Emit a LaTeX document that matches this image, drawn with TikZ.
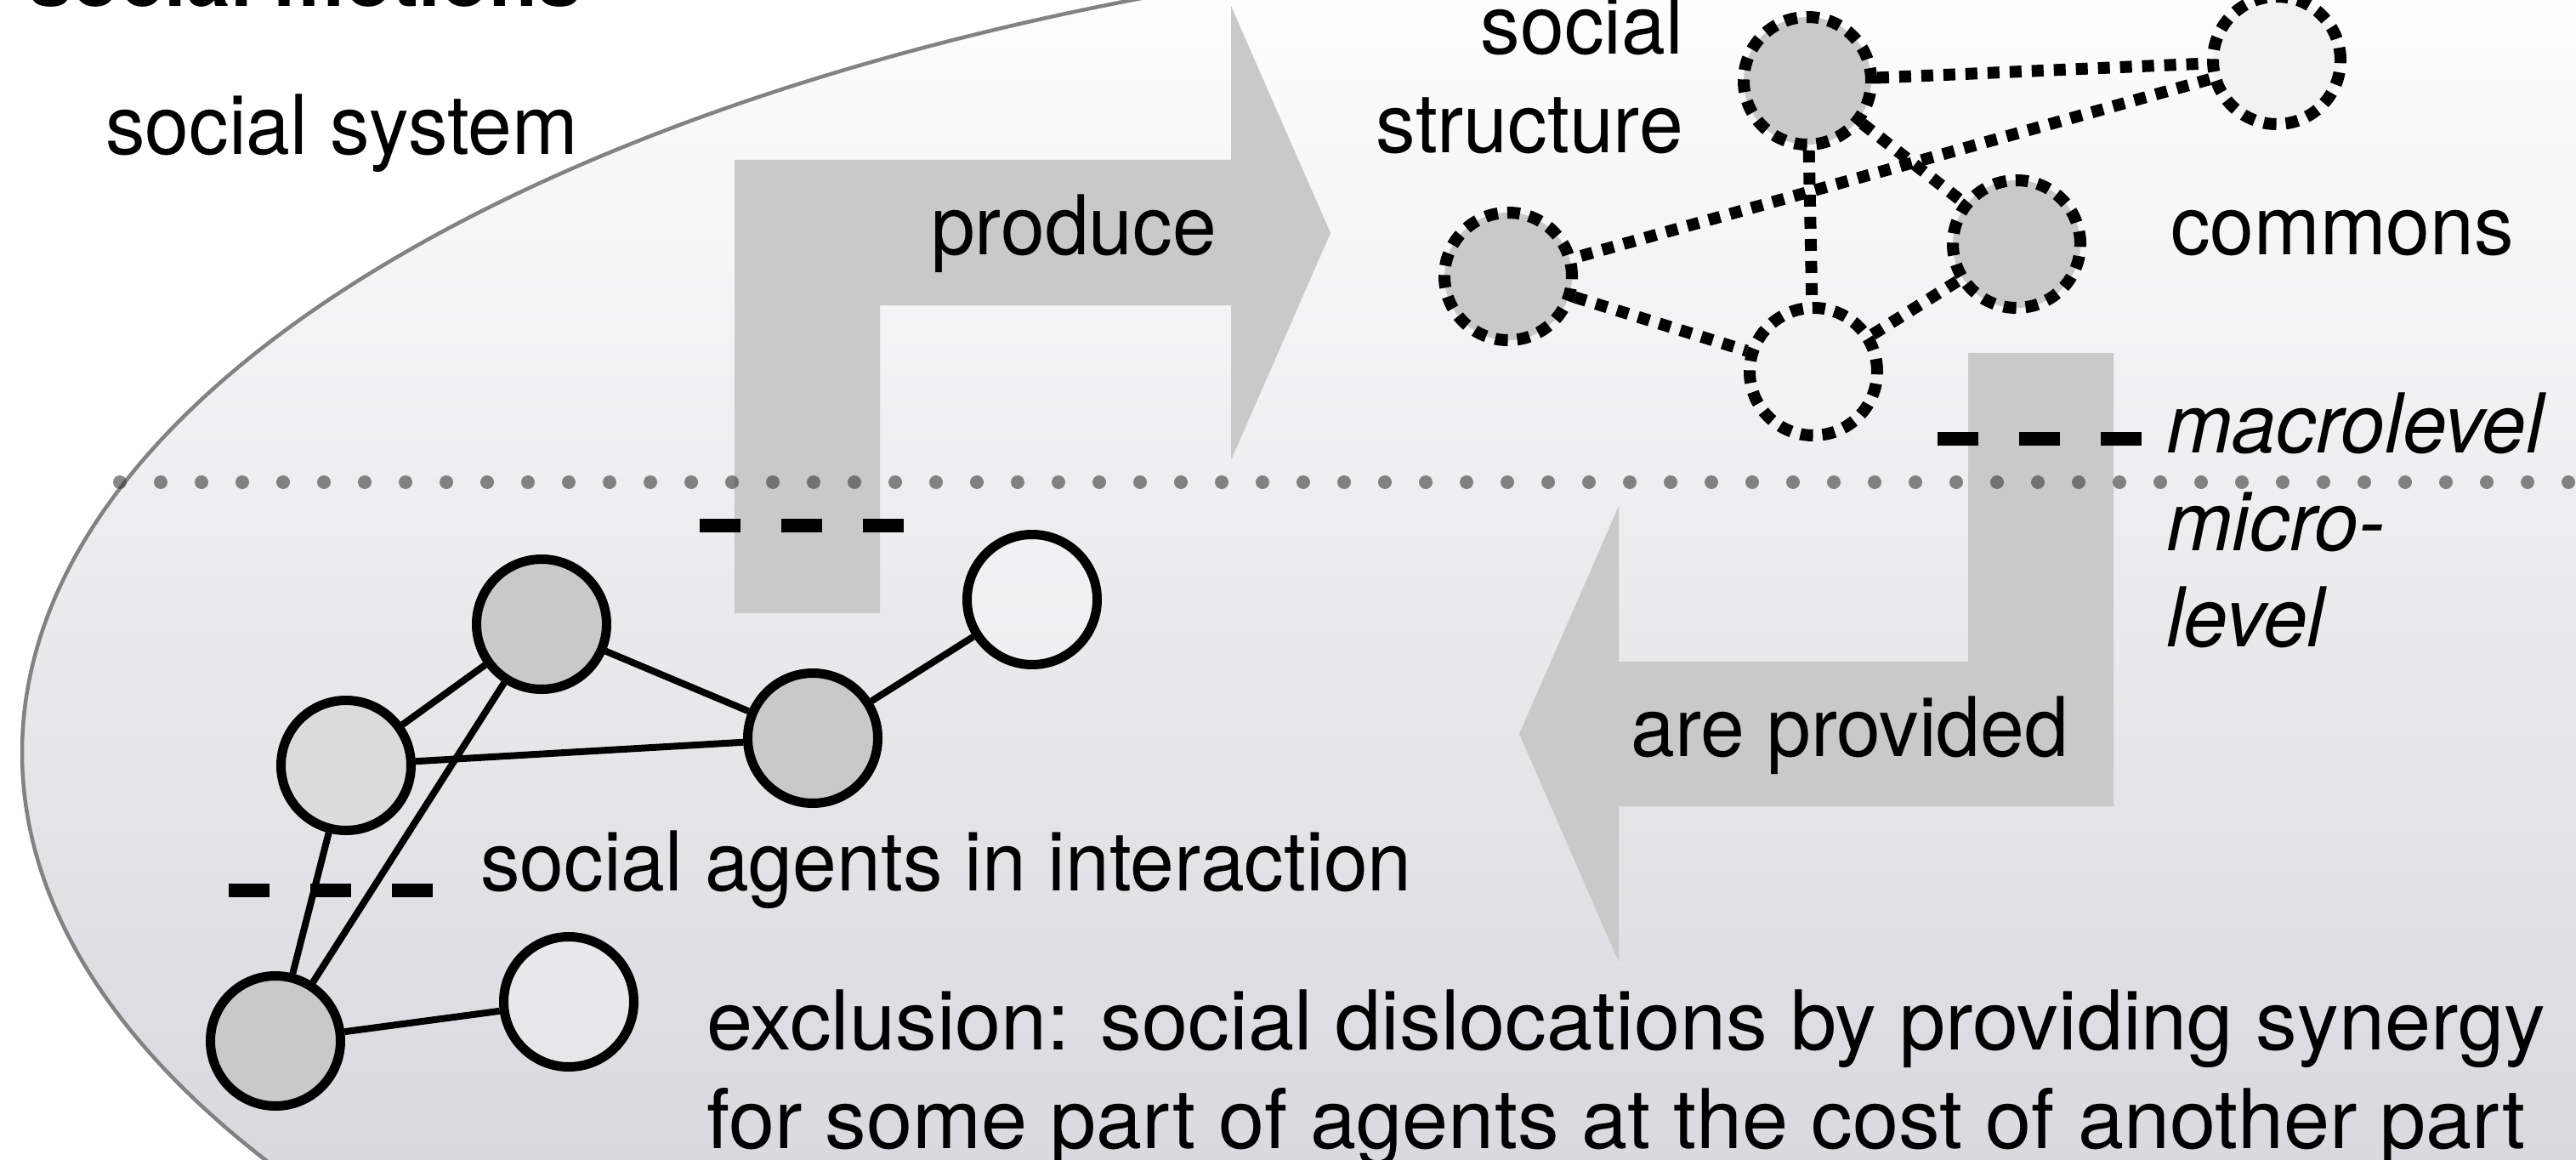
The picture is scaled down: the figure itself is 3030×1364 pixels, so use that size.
\documentclass[tikz,border=0pt]{standalone}
\usepackage{fontspec}
\setmainfont{TeX Gyre Heros}[FakeStretch=0.96]
\definecolor{arrowgray}{RGB}{201,201,201}
\definecolor{nodegray}{RGB}{201,201,201}
\definecolor{nodelight}{RGB}{219,219,219}
\definecolor{paleunit}{RGB}{242,242,242}
\definecolor{rimgray}{RGB}{130,130,130}
\definecolor{shadeend}{RGB}{205,205,211}
\definecolor{dotgray}{RGB}{57,57,57}
\begin{document}
\begin{tikzpicture}[x=1pt,y=-1pt,
  txt/.style={inner sep=0pt, font=\fontsize{97}{116}\selectfont},
  agent/.style={circle, draw=black, line width=11pt, minimum size=153pt, inner sep=0pt},
  unit/.style={circle, draw=black, line width=14pt, dash pattern=on 15pt off 11pt, minimum size=150pt, inner sep=0pt},
  tie/.style={draw=black, line width=8pt},
  weaktie/.style={draw=black, line width=14pt, dash pattern=on 14pt off 12pt},
  flow/.style={fill=arrowgray},
  levelmark/.style={draw=black, line width=16pt, dash pattern=on 48pt off 48pt},
]
\path[use as bounding box] (0,0) rectangle (3030,1364);
\clip (0,0) rectangle (3030,1364);

% the social system
\shadedraw[draw=rimgray, line width=4.5pt, top color=white, bottom color=shadeend]
  (2200,885) ellipse [x radius=2174pt, y radius=965pt];

% produce / are provided
\path[flow] (864,721) -- (864,188) -- (1448,188) -- (1448,7) -- (1565,274)
  -- (1448,541) -- (1448,359) -- (1035,359) -- (1035,721) -- cycle;
\path[flow] (2315,415) -- (2486,415) -- (2486,948) -- (1904,948) -- (1904,1131)
  -- (1787,863) -- (1904,595) -- (1904,778) -- (2315,778) -- cycle;

% border between macro- and microlevel
\draw[dotgray, opacity=0.6, line width=16pt, line cap=round, dash pattern=on 0pt off 48pt]
  (141,567) -- (3060,567);

% level marks
\draw[levelmark] (823,618) -- (1063,618);
\draw[levelmark] (2279,516) -- (2520,516);
\draw[levelmark] (269,1047) -- (509,1047);

% social agents in interaction
\node[agent, fill=nodegray] (a1) at (637,734) {};
\node[agent, fill=nodelight] (a2) at (407,900) {};
\node[agent, fill=nodegray] (a3) at (956,868) {};
\node[agent, fill=white, fill opacity=0.3] (a4) at (1214,705) {};
\node[agent, fill=nodegray] (a5) at (324,1224) {};
\node[agent, fill=white, fill opacity=0.3] (a6) at (669,1178) {};
\draw[tie] (a1) -- (a2);
\draw[tie] (a1) -- (a3);
\draw[tie] (a2) -- (a3);
\draw[tie] (a3) -- (a4);
\draw[tie] (a1) -- (a5);
\draw[tie] (a2) -- (a5);
\draw[tie] (a5) -- (a6);

% social structure
\node[unit, fill=nodegray] (u1) at (2126,95) {};
\node[unit, fill=paleunit] (u2) at (2678,71) {};
\node[unit, fill=nodegray] (u3) at (1774,325) {};
\node[unit, fill=nodegray] (u4) at (2372,287) {};
\node[unit, fill=paleunit] (u5) at (2133,437) {};
\draw[weaktie] (u1) -- (u2);
\draw[weaktie] (u2) -- (u3);
\draw[weaktie] (u1) -- (u5);
\draw[weaktie] (u1) -- (u4);
\draw[weaktie] (u3) -- (u5);
\draw[weaktie] (u5) -- (u4);

% labels
\node[txt, font=\fontsize{97}{116}\selectfont\bfseries, anchor=base west] (title) at (33,8) {social motions};
\node[txt, anchor=base west] (sys) at (124,182) {social system};
\node[txt, anchor=base] (prod) at (1263,300) {produce};
\node[txt, anchor=base] (prov) at (2176,889) {are provided};
\node[txt, anchor=base east] (soc1) at (1980,64) {social};
\node[txt, anchor=base east] (soc2) at (1980,180) {structure};
\node[txt, anchor=base west] (com) at (2553,299) {commons};
\node[txt, anchor=base west] (macro) at (2548,532) {\itshape macrolevel};
\node[txt, anchor=base west] (micro1) at (2548,647) {\itshape micro-};
\node[txt, anchor=base west] (micro2) at (2548,760) {\itshape level};
\node[txt, anchor=base west] (agents) at (565,1047) {social agents in interaction};
\node[txt, anchor=base west] (excl1) at (831,1234)
  {\scalebox{1.045}[1]{exclusion: social dislocations by providing synergy}};
\node[txt, anchor=base west] (excl2) at (831,1350)
  {\scalebox{1.045}[1]{for some part of agents at the cost of another part}};
\end{tikzpicture}
\end{document}
